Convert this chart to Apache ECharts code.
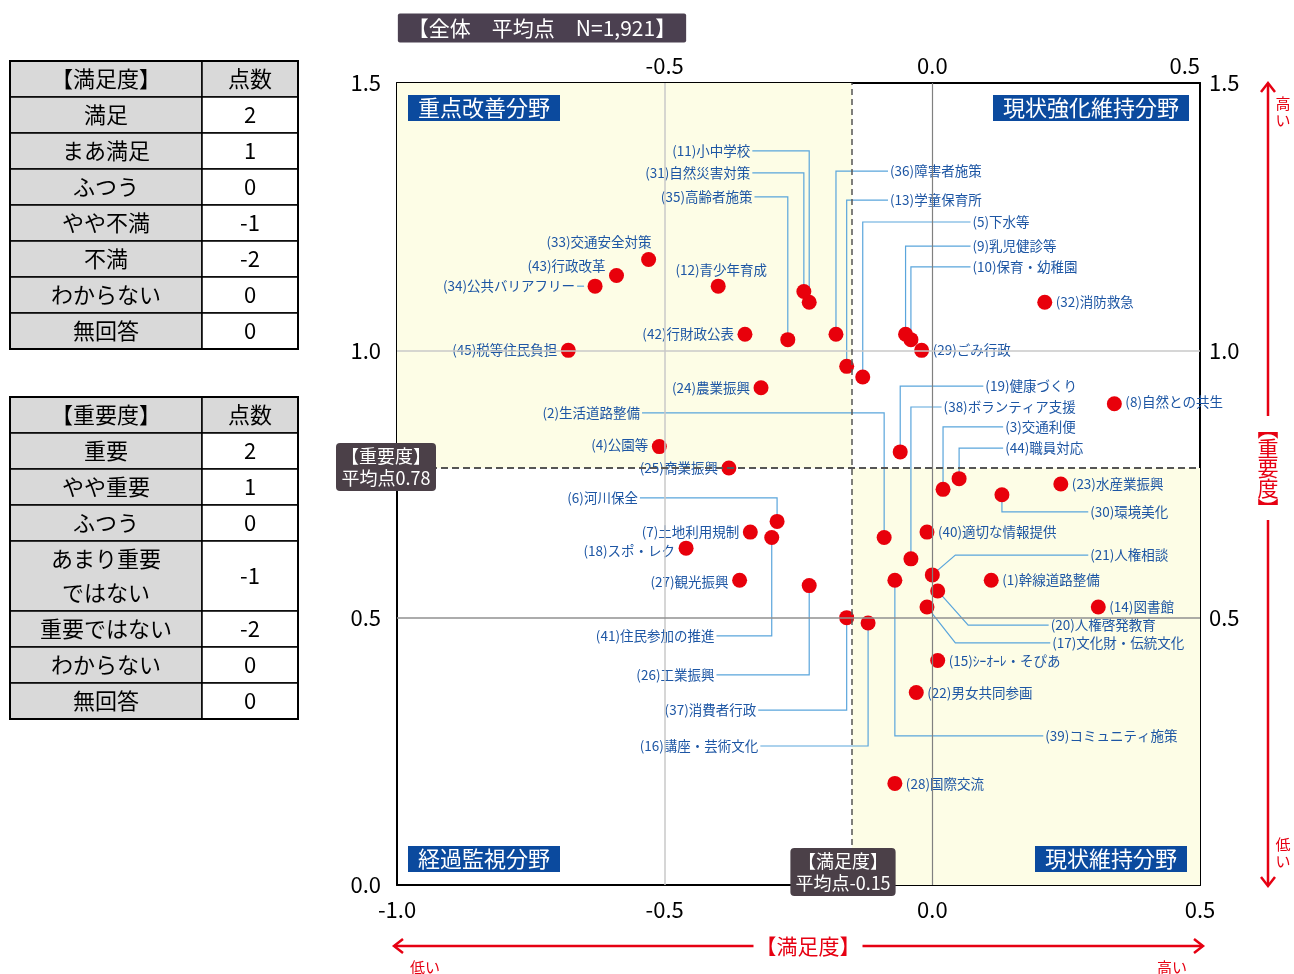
<!DOCTYPE html>
<html>
<head>
<meta charset="utf-8">
<script src="https://cdn.jsdelivr.net/npm/echarts@6/dist/echarts.min.js"></script>
<style>
  html, body { margin: 0; padding: 0; background: #fff; }
  #chart { width: 1294px; height: 974px; }
</style>
</head>
<body>
<div id="chart"></div>
<script>
// 施策項目 (1)〜(45)
const itemNames = [
  '幹線道路整備', '生活道路整備', '交通利便', '公園等', '下水等',
  '河川保全', '土地利用規制', '自然との共生', '乳児健診等', '保育・幼稚園',
  '小中学校', '青少年育成', '学童保育所', '図書館', 'ｼｰｵｰﾚ・そぴあ',
  '講座・芸術文化', '文化財・伝統文化', 'スポ・レク', '健康づくり', '人権啓発教育',
  '人権相談', '男女共同参画', '水産業振興', '農業振興', '商業振興',
  '工業振興', '観光振興', '国際交流', 'ごみ行政', '環境美化',
  '自然災害対策', '消防救急', '交通安全対策', '公共バリアフリー', '高齢者施策',
  '障害者施策', '消費者行政', 'ボランティア支援', 'コミュニティ施策', '適切な情報提供',
  '住民参加の推進', '行財政公表', '行政改革', '職員対応', '税等住民負担'
];
// 満足度 (x)
const satisfaction = [
  0.11, -0.09, 0.02, -0.51, -0.13,
  -0.29, -0.34, 0.34, -0.05, -0.04,
  -0.23, -0.40, -0.16, 0.31, 0.01,
  -0.12, -0.01, -0.46, -0.06, 0.01,
  0.00, -0.03, 0.24, -0.32, -0.38,
  -0.23, -0.36, -0.07, -0.02, 0.13,
  -0.24, 0.21, -0.53, -0.63, -0.27,
  -0.18, -0.16, -0.04, -0.07, -0.01,
  -0.30, -0.35, -0.59, 0.05, -0.68
];
// 重要度 (y)
const importance = [
  0.57, 0.65, 0.74, 0.82, 0.95,
  0.68, 0.66, 0.90, 1.03, 1.02,
  1.09, 1.12, 0.97, 0.52, 0.42,
  0.49, 0.52, 0.63, 0.81, 0.55,
  0.58, 0.36, 0.75, 0.93, 0.78,
  0.56, 0.57, 0.19, 1.00, 0.73,
  1.11, 1.09, 1.17, 1.12, 1.02,
  1.03, 0.50, 0.61, 0.57, 0.66,
  0.65, 1.03, 1.14, 0.76, 1.00
];
const meanSatisfaction = -0.15;
const meanImportance = 0.78;
const sampleSize = '1,921';

const satLabels = ['満足', 'まあ満足', 'ふつう', 'やや不満', '不満', 'わからない', '無回答'];
const satScores = [2, 1, 0, -1, -2, 0, 0];
const impLabels = ['重要', 'やや重要', 'ふつう', 'あまり重要\nではない', '重要ではない', 'わからない', '無回答'];
const impScores = [2, 1, 0, -1, -2, 0, 0];

// ラベル配置: L/R = 点の左/右, T/TL = 上, LE/RE = 引出し線(ラベル位置), RD = 斜め引出し(ラベル位置, 折点x)
const labelPlace = {
  1: ['R'], 2: ['LE', -0.546, 0.883], 3: ['RE', 0.136, 0.857], 4: ['L', -2], 5: ['RE', 0.075, 1.240],
  6: ['LE', -0.550, 0.724], 7: ['L'], 8: ['R', -2], 9: ['RE', 0.075, 1.195], 10: ['RE', 0.075, 1.156],
  11: ['LE', -0.340, 1.373], 12: ['T'], 13: ['RE', -0.079, 1.281], 14: ['R'], 15: ['R'],
  16: ['LE', -0.325, 0.260], 17: ['RD', 0.224, 0.453, 0.043], 18: ['L', 3], 19: ['RE', 0.099, 0.933],
  20: ['RD', 0.221, 0.486, 0.067], 21: ['RD', 0.295, 0.617, 0.043], 22: ['R'], 23: ['R'], 24: ['L'],
  25: ['L'], 26: ['LE', -0.407, 0.393], 27: ['L', 2], 28: ['R'], 29: ['R'], 30: ['RE', 0.295, 0.698],
  31: ['LE', -0.340, 1.332], 32: ['R'], 33: ['TL'], 34: ['L', 0, true], 35: ['LE', -0.336, 1.287],
  36: ['RE', -0.079, 1.335], 37: ['LE', -0.329, 0.327], 38: ['RE', 0.021, 0.894], 39: ['RE', 0.211, 0.279],
  40: ['R'], 41: ['LE', -0.407, 0.466], 42: ['L'], 43: ['L', -10], 44: ['RE', 0.136, 0.817], 45: ['L']
};

const JP = '"Noto Sans CJK JP", "Noto Sans", sans-serif';
const LABEL_COLOR = '#1d56a4';
const LEADER_COLOR = '#5aa5dc';
const RED = '#e60012';

const points = satisfaction.map((x, i) => [x, importance[i], i]);

function renderLabel(params, api) {
  const i = api.value(2);
  const pt = api.coord([api.value(0), api.value(1)]);
  const place = labelPlace[i + 1];
  const kind = place[0];
  const text = '(' + (i + 1) + ')' + itemNames[i];
  const children = [];
  let tx, ty, align = 'left';
  if (kind === 'L' || kind === 'R') {
    tx = pt[0] + (kind === 'L' ? -11 : 11);
    ty = pt[1] + (place[1] || 0);
    align = kind === 'L' ? 'right' : 'left';
    if (place[2]) {
      children.push({ type: 'polyline', shape: { points: [[tx - 7, ty], [tx, ty]] },
        style: { stroke: LEADER_COLOR, lineWidth: 1.2, fill: null } });
      tx -= 9;
    }
  } else if (kind === 'T') {
    tx = pt[0] + 3; ty = pt[1] - 16; align = 'center';
  } else if (kind === 'TL') {
    tx = pt[0] + 3; ty = pt[1] - 18; align = 'right';
  } else {
    const a = api.coord([place[1], place[2]]);
    tx = a[0]; ty = a[1];
    let pts;
    if (kind === 'LE') {
      align = 'right';
      pts = [[a[0] + 2, a[1]], [pt[0], a[1]], pt];
    } else if (kind === 'RE') {
      pts = [[a[0] - 2, a[1]], [pt[0], a[1]], pt];
    } else {
      const b = api.coord([place[3], place[2]]);
      pts = [[a[0] - 2, a[1]], [b[0], a[1]], pt];
    }
    children.push({ type: 'polyline', shape: { points: pts },
      style: { stroke: LEADER_COLOR, lineWidth: 1.2, fill: null } });
  }
  children.push({
    type: 'text', x: tx, y: ty,
    style: { text: text, font: '13.5px ' + JP, fill: LABEL_COLOR,
      align: align, textAlign: align, verticalAlign: 'middle', textVerticalAlign: 'middle' }
  });
  return { type: 'group', children: children };
}

// 左の点数表
function buildTable(top, title, labels, scores, heights) {
  const els = [];
  const rows = [[title, '点数', true]].concat(labels.map((l, i) => [l, String(scores[i]), false]));
  let y = top;
  rows.forEach((r, i) => {
    const h = heights[i];
    els.push({ type: 'rect', shape: { x: 10, y: y, width: 192, height: h },
      style: { fill: '#d9d9d9', stroke: '#000', lineWidth: 1.5 } });
    els.push({ type: 'rect', shape: { x: 202, y: y, width: 96, height: h },
      style: { fill: r[2] ? '#d9d9d9' : '#fff', stroke: '#000', lineWidth: 1.5 } });
    els.push({ type: 'text', x: 106, y: y + h / 2,
      style: { text: r[0], font: '22px ' + JP, fill: '#000', lineHeight: 34,
        align: 'center', textAlign: 'center', verticalAlign: 'middle', textVerticalAlign: 'middle' } });
    els.push({ type: 'text', x: 250, y: y + h / 2,
      style: { text: r[1], font: '22px ' + JP, fill: '#000',
        align: 'center', textAlign: 'center', verticalAlign: 'middle', textVerticalAlign: 'middle' } });
    y += h;
  });
  els.push({ type: 'rect', shape: { x: 10, y: top, width: 288, height: y - top },
    style: { fill: null, stroke: '#000', lineWidth: 2 } });
  return els;
}

function boxText(x, y, text, opts) {
  return {
    type: 'text', x: x, y: y, z: 20,
    style: Object.assign({ text: text, fill: '#fff', font: '22px ' + JP,
      align: 'center', textAlign: 'center', verticalAlign: 'middle', textVerticalAlign: 'middle',
      backgroundColor: '#0b4a9e', padding: [2, 10] }, opts || {})
  };
}

function redLine(pts) {
  return { type: 'polyline', z: 20, shape: { points: pts }, style: { stroke: RED, lineWidth: 2.5, fill: null } };
}

const graphics = []
  .concat(buildTable(61, '【満足度】', satLabels, satScores, [36, 36, 36, 36, 36, 36, 36, 36]))
  .concat(buildTable(397, '【重要度】', impLabels, impScores, [36, 36, 36, 36, 70, 36, 36, 36]))
  .concat([
    boxText(542, 28, '【全体　平均点　N=' + sampleSize + '】',
      { font: '21px ' + JP, backgroundColor: '#4b4050', padding: [4, 10], borderRadius: 2 }),
    boxText(484, 108, '重点改善分野'),
    boxText(1091, 108, '現状強化維持分野'),
    boxText(484, 859, '経過監視分野'),
    boxText(1111, 859, '現状維持分野'),
    boxText(386, 467, '【重要度】\n平均点' + meanImportance.toFixed(2),
      { backgroundColor: '#4b4048', font: '18px ' + JP, lineHeight: 22, padding: [2, 5], borderRadius: 4 }),
    boxText(843, 872, '【満足度】\n平均点' + meanSatisfaction.toFixed(2),
      { backgroundColor: '#4b4048', font: '18px ' + JP, lineHeight: 22, padding: [2, 5], borderRadius: 4 }),
    // 重要度の矢印
    redLine([[1268, 84], [1268, 885]]),
    redLine([[1261, 92], [1268, 83], [1275, 92]]),
    redLine([[1261, 877], [1268, 886], [1275, 877]]),
    { type: 'text', x: 1268, y: 468, z: 21, style: { text: '︻\n重\n要\n度\n︼', fill: RED, font: '21px ' + JP,
      lineHeight: 20, align: 'center', textAlign: 'center', verticalAlign: 'middle', textVerticalAlign: 'middle',
      backgroundColor: '#fff', padding: [2, 0] } },
    { type: 'text', x: 1283, y: 112, z: 21, style: { text: '高\nい', fill: RED, font: '15px ' + JP,
      lineHeight: 17, align: 'center', textAlign: 'center', verticalAlign: 'middle', textVerticalAlign: 'middle' } },
    { type: 'text', x: 1283, y: 853, z: 21, style: { text: '低\nい', fill: RED, font: '15px ' + JP,
      lineHeight: 17, align: 'center', textAlign: 'center', verticalAlign: 'middle', textVerticalAlign: 'middle' } },
    // 満足度の矢印
    redLine([[394, 946], [1203, 946]]),
    redLine([[403, 939], [394, 946], [403, 953]]),
    redLine([[1194, 939], [1203, 946], [1194, 953]]),
    { type: 'text', x: 808, y: 946, z: 21, style: { text: '【満足度】', fill: RED, font: '21px ' + JP,
      align: 'center', textAlign: 'center', verticalAlign: 'middle', textVerticalAlign: 'middle',
      backgroundColor: '#fff', padding: [0, 2] } },
    { type: 'text', x: 425, y: 967, z: 21, style: { text: '低い', fill: RED, font: '15px ' + JP,
      align: 'center', textAlign: 'center', verticalAlign: 'middle', textVerticalAlign: 'middle' } },
    { type: 'text', x: 1172, y: 967, z: 21, style: { text: '高い', fill: RED, font: '15px ' + JP,
      align: 'center', textAlign: 'center', verticalAlign: 'middle', textVerticalAlign: 'middle' } }
  ]);

const axisLabelStyle = { color: '#000', fontSize: 22, fontFamily: JP, showMinLabel: true, showMaxLabel: true };
const frame = { onZero: false, lineStyle: { color: '#000', width: 2 } };

const chart = echarts.init(document.getElementById('chart'));
chart.setOption({
  animation: false,
  grid: { left: 397, right: 94, top: 83, bottom: 89 },
  xAxis: [
    { type: 'value', min: -1, max: 0.5, interval: 0.5, position: 'bottom',
      axisLine: frame, axisTick: { show: false }, splitLine: { show: false },
      axisLabel: Object.assign({ margin: 14, formatter: v => v.toFixed(1) }, axisLabelStyle) },
    { type: 'value', min: -1, max: 0.5, interval: 0.5, position: 'top',
      axisLine: frame, axisTick: { show: false }, splitLine: { show: false },
      axisLabel: Object.assign({ margin: 6, alignMaxLabel: 'right',
        formatter: v => (v === -1 ? '' : v.toFixed(1)) }, axisLabelStyle) }
  ],
  yAxis: [
    { type: 'value', min: 0, max: 1.5, interval: 0.5, position: 'left',
      axisLine: frame, axisTick: { show: false }, splitLine: { show: false },
      axisLabel: Object.assign({ margin: 16, formatter: v => v.toFixed(1) }, axisLabelStyle) },
    { type: 'value', min: 0, max: 1.5, interval: 0.5, position: 'right',
      axisLine: frame, axisTick: { show: false }, splitLine: { show: false },
      axisLabel: Object.assign({ margin: 9, formatter: v => (v === 0 ? '' : v.toFixed(1)) }, axisLabelStyle) }
  ],
  series: [
    {
      name: 'bg', type: 'scatter', z: 1, data: [], silent: true,
      markArea: {
        silent: true,
        itemStyle: { color: '#fdfde6' },
        data: [
          [{ coord: [-1, meanImportance] }, { coord: [meanSatisfaction, 1.5] }],
          [{ coord: [meanSatisfaction, 0] }, { coord: [0.5, meanImportance] }]
        ]
      }
    },
    {
      name: 'grid', type: 'scatter', z: 2, data: [], silent: true,
      markLine: {
        silent: true, symbol: 'none', label: { show: false },
        data: [
          { xAxis: -0.5, lineStyle: { color: '#c8c8c8', width: 1.5, type: 'solid' } },
          { xAxis: 0, lineStyle: { color: '#808080', width: 1.2, type: 'solid' } },
          { yAxis: 0.5, lineStyle: { color: '#909090', width: 1.5, type: 'solid' } },
          { yAxis: 1.0, lineStyle: { color: '#c8c8c8', width: 1.5, type: 'solid' } },
          { xAxis: meanSatisfaction, lineStyle: { color: '#555', width: 1.5, type: [6, 4] } },
          { yAxis: meanImportance, lineStyle: { color: '#555', width: 2, type: [7, 4] } }
        ]
      }
    },
    {
      name: 'labels', type: 'custom', z: 3, clip: false, silent: true,
      data: points, encode: { x: 0, y: 1 },
      renderItem: renderLabel
    },
    {
      name: 'items', type: 'scatter', z: 4, silent: true,
      symbolSize: 15,
      itemStyle: { color: '#e8000b', opacity: 1 },
      data: points
    }
  ],
  graphic: graphics
});
</script>
</body>
</html>
